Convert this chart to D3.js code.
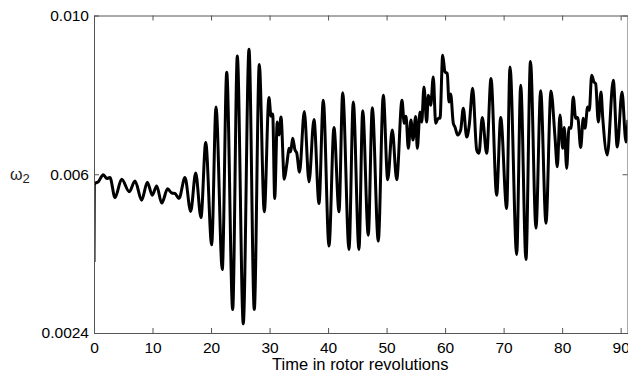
<!DOCTYPE html>
<html>
<head>
<meta charset="utf-8">
<script src="https://cdn.jsdelivr.net/npm/d3@7"></script>
<style>
  body { margin: 0; background: #fff; }
  text { font-family: "Liberation Sans", Arial, sans-serif; }
</style>
</head>
<body>
<div id="omega-chart"></div>
<script>
// time in rotor revolutions
const time = [
  0, 0.05, 0.17, 0.73, 1.59, 2.17, 2.73, 3.59, 4.73, 6.03, 7.01, 8.15, 9.11, 9.96,
  10.71, 11.57, 12.59, 13.28, 13.84, 14.52, 15.55, 16.52, 17.38, 18.28, 19.09, 20.11,
  20.85, 21.92, 22.68, 23.70, 24.49, 25.51, 26.49, 27.39, 28.25, 29.10, 29.90, 30.25,
  30.54, 30.88, 31.32, 31.61, 31.95, 32.52, 32.93, 33.37, 33.61, 33.95, 34.35, 34.64,
  35.12, 35.94, 36.74, 37.59, 38.45, 39.18, 40.16, 41.01, 41.87, 42.50, 43.58, 44.31,
  45.28, 45.92, 46.87, 47.56, 48.58, 49.44, 50.19, 50.97, 51.73, 52.63, 53.02, 53.32,
  53.71, 54.17, 54.51, 54.97, 55.25, 55.71, 56.00, 56.39, 56.85, 57.13, 57.54, 57.98,
  58.39, 58.83, 59.13, 59.59, 59.98, 60.37, 60.66, 60.95, 61.40, 61.69, 62.15, 62.66,
  63.11, 63.69, 64.13, 64.71, 65.40, 65.79, 66.35, 67.11, 67.84, 68.81, 69.50, 70.52,
  71.09, 72.23, 72.92, 73.82, 74.59, 75.53, 76.33, 77.24, 78.09, 78.78, 79.17, 79.63,
  80.09, 80.37, 80.78, 81.17, 81.51, 81.90, 82.31, 82.66, 83.17, 83.61, 83.90, 84.36,
  84.64, 85.05, 85.44, 85.73, 86.18, 86.64, 86.93, 87.71, 88.74, 89.42, 90.23, 90.91,
  91.25
];

// omega_2 values
const omega = [
  0.00410, 0.00594, 0.00598, 0.00602, 0.00619, 0.00610, 0.00612, 0.00564, 0.00608, 0.00578,
  0.00604, 0.00558, 0.00601, 0.00570, 0.00592, 0.00551, 0.00585, 0.00575, 0.00574, 0.00562,
  0.00612, 0.00531, 0.00623, 0.00516, 0.00696, 0.00451, 0.00781, 0.00392, 0.00864, 0.00296,
  0.00903, 0.00262, 0.00919, 0.00296, 0.00883, 0.00530, 0.00804, 0.00759, 0.00764, 0.00562,
  0.00745, 0.00714, 0.00757, 0.00608, 0.00642, 0.00682, 0.00674, 0.00706, 0.00678, 0.00671,
  0.00625, 0.00770, 0.00602, 0.00751, 0.00550, 0.00797, 0.00448, 0.00732, 0.00530, 0.00815,
  0.00440, 0.00793, 0.00440, 0.00772, 0.00474, 0.00779, 0.00460, 0.00809, 0.00607, 0.00726,
  0.00607, 0.00797, 0.00742, 0.00759, 0.00682, 0.00750, 0.00702, 0.00758, 0.00682, 0.00769,
  0.00745, 0.00829, 0.00745, 0.00809, 0.00785, 0.00853, 0.00742, 0.00754, 0.00754, 0.00905,
  0.00865, 0.00861, 0.00793, 0.00812, 0.00742, 0.00733, 0.00714, 0.00726, 0.00778, 0.00709,
  0.00738, 0.00826, 0.00678, 0.00670, 0.00756, 0.00670, 0.00849, 0.00570, 0.00756, 0.00538,
  0.00877, 0.00428, 0.00833, 0.00416, 0.00890, 0.00491, 0.00820, 0.00503, 0.00819, 0.00709,
  0.00638, 0.00762, 0.00682, 0.00732, 0.00634, 0.00732, 0.00730, 0.00805, 0.00754, 0.00756,
  0.00684, 0.00754, 0.00730, 0.00781, 0.00773, 0.00857, 0.00841, 0.00837, 0.00745, 0.00817,
  0.00757, 0.00666, 0.00845, 0.00685, 0.00817, 0.00697, 0.00750
];

const xTicks = [0, 10, 20, 30, 40, 50, 60, 70, 80, 90];
const yTicks = [0.0024, 0.0062, 0.0100];
const yTickLabels = ['0.0024', '0.006', '0.010'];

const width = 628;
const height = 373;
const margin = { top: 15.5, right: 0.5, bottom: 40, left: 94 };
const innerW = width - margin.left - margin.right;
const innerH = height - margin.top - margin.bottom;

const svg = d3.select('#omega-chart')
  .append('svg')
  .attr('width', width)
  .attr('height', height);

const x = d3.scaleLinear()
  .domain([0, 91.17])
  .range([margin.left, margin.left + innerW]);

const y = d3.scaleLinear()
  .domain([0.0024, 0.0100])
  .range([margin.top + innerH, margin.top]);

const axisColor = '#555';

// clip for the curve
svg.append('clipPath')
  .attr('id', 'plot-clip')
  .append('rect')
  .attr('x', margin.left)
  .attr('y', margin.top)
  .attr('width', innerW)
  .attr('height', innerH);

const data = time.map((t, i) => ({ t, v: omega[i] }));

const line = d3.line()
  .x(d => x(d.t))
  .y(d => y(d.v))
  .curve(d3.curveMonotoneX);

svg.append('path')
  .datum(data)
  .attr('clip-path', 'url(#plot-clip)')
  .attr('fill', 'none')
  .attr('stroke', '#000')
  .attr('stroke-width', 3)
  .attr('stroke-linejoin', 'round')
  .attr('d', line);

// axes (ticks point inward, box around)
const bottomAxis = svg.append('g')
  .attr('transform', `translate(0,${margin.top + innerH})`)
  .call(d3.axisBottom(x).tickValues(xTicks).tickSizeInner(-5).tickSizeOuter(0).tickPadding(9).tickFormat(d3.format('d')));

const topAxis = svg.append('g')
  .attr('transform', `translate(0,${margin.top})`)
  .call(d3.axisTop(x).tickValues(xTicks).tickSizeInner(-5).tickSizeOuter(0).tickFormat(''));

const leftAxis = svg.append('g')
  .attr('transform', `translate(${margin.left},0)`)
  .call(d3.axisLeft(y).tickValues(yTicks).tickSizeInner(-5).tickSizeOuter(0).tickPadding(5)
    .tickFormat((d, i) => yTickLabels[i]));

const rightAxis = svg.append('g')
  .attr('transform', `translate(${margin.left + innerW},0)`)
  .call(d3.axisRight(y).tickValues(yTicks).tickSizeInner(-5).tickSizeOuter(0).tickFormat(''));

[bottomAxis, topAxis, leftAxis, rightAxis].forEach(g => {
  g.select('.domain').attr('stroke', axisColor);
  g.selectAll('.tick line').attr('stroke', axisColor);
  g.selectAll('text')
    .attr('fill', '#000')
    .style('font-size', '15.5px')
    .style('font-family', '"Liberation Sans", Arial, sans-serif');
});

// axis labels
svg.append('text')
  .attr('x', x(45.5))
  .attr('y', 369.5)
  .attr('text-anchor', 'middle')
  .style('font-size', '16.5px')
  .text('Time in rotor revolutions');

const yLabel = svg.append('text')
  .attr('x', 10)
  .attr('y', 180)
  .style('font-size', '16px')
  .attr('fill', '#222');
yLabel.append('tspan').text('ω');
yLabel.append('tspan')
  .attr('dy', 3)
  .style('font-size', '13px')
  .text('2');
</script>
</body>
</html>
